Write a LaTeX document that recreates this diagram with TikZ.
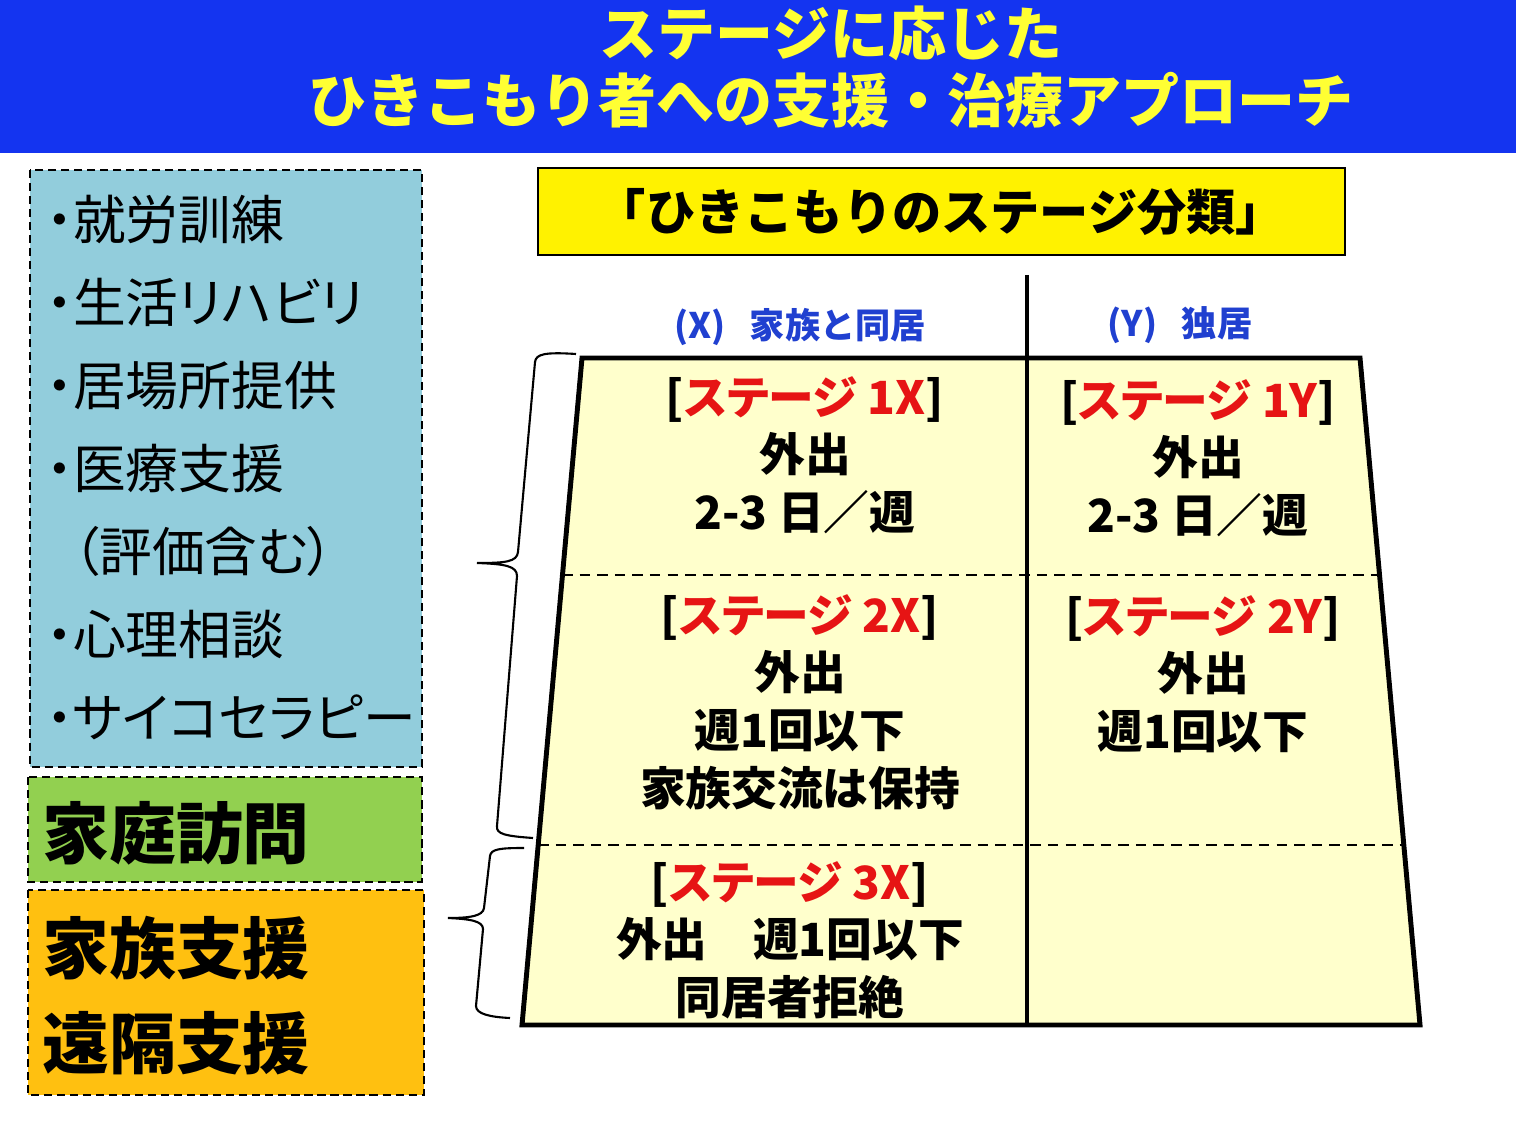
\documentclass[tikz,border=0pt]{standalone}
\usepackage{fontspec}
\setmainfont{Noto Sans CJK JP}
\newfontfamily\propfont{Noto Sans CJK JP}[RawFeature=+palt]
\definecolor{titleblue}{RGB}{20,52,240}
\definecolor{titleyellow}{RGB}{255,255,51}
\definecolor{aqua}{RGB}{146,205,220}
\definecolor{leafgreen}{RGB}{146,208,80}
\definecolor{amber}{RGB}{255,192,16}
\definecolor{cream}{RGB}{255,255,204}
\definecolor{headblue}{RGB}{32,64,208}
\definecolor{stagered}{RGB}{230,20,20}
\newcommand{\stagelabel}[1]{{\propfont[{\color{stagered}ステージ #1}]}}
\begin{document}
\begin{tikzpicture}[x=0.01cm,y=-0.01cm,
  every node/.style={font=\bfseries},
  listbox/.style={draw, line width=0.5pt, dash pattern=on 2.3pt off 1.4pt},
  cell/.style={align=center, font=\bfseries\fontsize{13}{16.4}\selectfont},
  colhead/.style={headblue, font=\bfseries\fontsize{10}{12}\selectfont}]
  \useasboundingbox (0,0) rectangle (1516,1122);
  % The title band
  \fill [titleblue] (0,0) rectangle (1516,153);
  \node (title) [titleyellow, align=center, font=\bfseries\fontsize{16.5}{19}\selectfont] at (831,67)
    {ステージに応じた\\ひきこもり者への支援・治療アプローチ};
  % The support boxes on the left
  \draw [listbox, fill=aqua] (30,170) rectangle (422,767);
  \node (support) [anchor=west, align=left, inner sep=0pt, font=\propfont\fontsize{15}{23.6}\selectfont] at (46,468)
    {・就労訓練\\・生活リハビリ\\・居場所提供\\・医療支援\\
     \phantom{・}（評価含む）\\・心理相談\\・サイコセラピー};
  \draw [listbox, fill=leafgreen] (28,777) rectangle (422,882);
  \node (visit) [anchor=west, font=\bfseries\fontsize{19}{23}\selectfont] at (30,833) {家庭訪問};
  \draw [listbox, fill=amber] (28,890) rectangle (424,1095);
  \node (family) [anchor=west, align=left, font=\bfseries\fontsize{19}{27}\selectfont] at (30,996)
    {家族支援\\遠隔支援};
  % The stage table
  \draw [line width=0.5pt, fill=yellow] (538,168) rectangle (1345,255);
  \node (heading) [font=\bfseries\fontsize{14}{16}\selectfont] at (941,212) {「ひきこもりのステージ分類」};
  \node (colx) [colhead] at (800,327) {(X)\hspace{0.7em}家族と同居};
  \node (coly) [colhead] at (1180,325) {(Y)\hspace{0.7em}独居};
  \draw [line width=1.4pt, line join=miter, fill=cream] (582,358) -- (1360,358) -- (1420,1025) -- (522,1025) -- cycle;
  \draw [line width=0.5pt, dash pattern=on 3pt off 2pt] (562,575) -- (1380,575);
  \draw [line width=0.5pt, dash pattern=on 3pt off 2pt] (538,845) -- (1404,845);
  \draw [line width=1.1pt] (1027,275) -- (1027,1025);
  \node (onex) [cell] at (805,455) {\stagelabel{1X}\\外出\\2-3 日／週};
  \node (oney) [cell] at (1198,458) {\stagelabel{1Y}\\外出\\2-3 日／週};
  \node (twox) [cell] at (800,702) {\stagelabel{2X}\\外出\\週1回以下\\家族交流は保持};
  \node (twoy) [cell] at (1203,674) {\stagelabel{2Y}\\外出\\週1回以下};
  \node (threex) [cell] at (790,940) {\stagelabel{3X}\\外出　週1回以下\\同居者拒絶};
  % The braces
  \draw [line width=0.6pt] (576,354) .. controls (545,352) and (536,354) .. (535,362) -- (518,552)
    .. controls (517,562) and (505,563) .. (477,563) .. controls (505,564) and (517,566) .. (517,576)
    -- (497,826) .. controls (496,834) and (505,836) .. (533,838);
  \draw [line width=0.6pt] (524,848) .. controls (500,848) and (491,849) .. (490,856) -- (484,908)
    .. controls (483,916) and (470,918) .. (448,918) .. controls (470,919) and (483,921) .. (483,929)
    -- (476,1006) .. controls (476,1014) and (490,1017) .. (510,1018);
\end{tikzpicture}
\end{document}
